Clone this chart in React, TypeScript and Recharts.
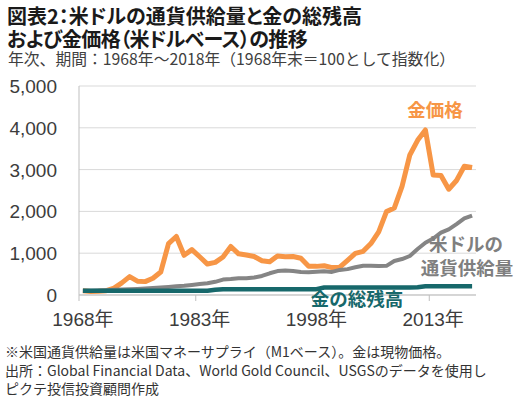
import React from 'react'
import { LineChart, Line, XAxis, YAxis, CartesianGrid } from 'recharts'

// 1968年末 = 100 とした指数
const years = [
  1968, 1969, 1970, 1971, 1972, 1973, 1974, 1975, 1976, 1977,
  1978, 1979, 1980, 1981, 1982, 1983, 1984, 1985, 1986, 1987,
  1988, 1989, 1990, 1991, 1992, 1993, 1994, 1995, 1996, 1997,
  1998, 1999, 2000, 2001, 2002, 2003, 2004, 2005, 2006, 2007,
  2008, 2009, 2010, 2011, 2012, 2013, 2014, 2015, 2016, 2017,
  2018,
]

// 金価格
const goldPrice = [
  100, 84, 89, 104, 165, 290, 440, 330, 320, 400,
  550, 1230, 1400, 950, 1085, 915, 740, 780, 910, 1160,
  985, 955, 920, 820, 795, 935, 915, 920, 880, 690,
  685, 700, 655, 665, 830, 995, 1045, 1230, 1510, 1995,
  2080, 2600, 3350, 3700, 3950, 2870, 2860, 2530, 2740, 3080,
  3050,
]

// 米ドルの通貨供給量（M1）
const moneySupply = [
  100, 104, 109, 116, 126, 134, 139, 146, 155, 168,
  182, 194, 208, 221, 241, 264, 280, 315, 368, 381,
  400, 403, 419, 455, 520, 573, 584, 572, 549, 545,
  557, 570, 552, 600, 619, 663, 698, 698, 694, 698,
  814, 860, 933, 1099, 1250, 1352, 1493, 1571, 1696, 1831,
  1900,
]

// 金の総残高
const goldStock = [
  100, 100, 100, 100, 100, 100, 100, 100, 100, 100,
  100, 100, 100, 100, 100, 100, 100, 125, 140, 140,
  140, 140, 140, 140, 140, 140, 140, 140, 140, 140,
  140, 180, 180, 180, 180, 180, 180, 180, 180, 180,
  180, 180, 180, 185, 210, 210, 210, 210, 210, 210,
  210,
]

const yTicks = [0, 1000, 2000, 3000, 4000, 5000]

const data = years.map((year, i) => ({
  year,
  gold: goldPrice[i],
  m1: moneySupply[i],
  stock: goldStock[i],
}))

const ORANGE = '#f79646'
const GRAY = '#858585'
const TEAL = '#17686b'
const AXIS = '#bfbfbf'
const LABEL = '#3c3c3c'
const JP = "'Noto Sans CJK JP', sans-serif"
const NUM = "'Liberation Sans', 'Noto Sans CJK JP', sans-serif"
const PALT = { fontFeatureSettings: "'palt'" }

const HALF_BAND = 3.9

function XTick({ x, y, payload }: any) {
  return (
    <g>
      <line x1={x - HALF_BAND} x2={x - HALF_BAND} y1={y} y2={y + 6} stroke={AXIS} />
      <text x={x} y={y + 31} textAnchor="middle" fontFamily={NUM} fontSize={19} fill={LABEL}>
        {payload.value}年
      </text>
    </g>
  )
}

function YTick({ x, y, payload }: any) {
  return (
    <text x={x - 22} y={y + 7} textAnchor="end" fontFamily={NUM} fontSize={19} fill={LABEL}>
      {payload.value.toLocaleString('en-US')}
    </text>
  )
}

export default function App() {
  return (
    <div style={{ position: 'absolute', left: 0, top: 0, width: 520, height: 396, background: '#fff' }}>
      <LineChart
        width={520}
        height={396}
        data={data}
        margin={{ top: 86, right: 44, bottom: 71, left: 0 }}
      >
        <CartesianGrid vertical={false} stroke="#d9d9d9" />
        <XAxis
          dataKey="year"
          height={30}
          interval={14}
          padding={{ left: HALF_BAND, right: HALF_BAND }}
          axisLine={{ stroke: AXIS }}
          tickLine={false}
          tickSize={0}
          tickMargin={0}
          tick={XTick}
        />
        <YAxis
          width={79}
          domain={[0, 5000]}
          ticks={yTicks}
          axisLine={{ stroke: AXIS }}
          tickLine={false}
          tickSize={0}
          tickMargin={0}
          tick={YTick}
        />
        <Line dataKey="gold" type="linear" stroke={ORANGE} strokeWidth={5} strokeLinejoin="round" dot={false} isAnimationActive={false} />
        <Line dataKey="m1" type="linear" stroke={GRAY} strokeWidth={4} strokeLinejoin="round" dot={false} isAnimationActive={false} />
        <Line dataKey="stock" type="linear" stroke={TEAL} strokeWidth={4.5} strokeLinejoin="round" dot={false} isAnimationActive={false} />
      </LineChart>

      <svg width={520} height={396} style={{ position: 'absolute', left: 0, top: 0, pointerEvents: 'none' }}>
        <g fontFamily={JP} fontWeight="bold" fontSize={20} fill="#1a1a1a" style={PALT}>
          <text x={7} y={23.5}>図表2：米ドルの通貨供給量と金の総残高</text>
          <text x={7} y={47} letterSpacing={-0.6}>および金価格（米ドルベース）の推移</text>
        </g>
        <text x={8} y={65} fontFamily={JP} fontSize={15.8} fill="#404040">
          年次、期間：1968年～2018年（1968年末＝100として指数化）
        </text>

        <g fontFamily={JP} fontWeight="bold" fontSize={18.5} textAnchor="middle">
          <text x={435} y={116.5} fill={ORANGE}>金価格</text>
          <text x={466} y={251} fill="#7f7f7f">米ドルの</text>
          <text x={467} y={275} fill="#7f7f7f">通貨供給量</text>
          <text x={357} y={305.5} fill={TEAL}>金の総残高</text>
        </g>

        <g fontFamily={JP} fontSize={14} fill="#333">
          <text x={5} y={357}>※米国通貨供給量は米国マネーサプライ（M1ベース）。金は現物価格。</text>
          <text x={5} y={376}>出所：Global Financial Data、World Gold Council、USGSのデータを使用し</text>
          <text x={5} y={393.5}>ピクテ投信投資顧問作成</text>
        </g>
      </svg>
    </div>
  )
}
